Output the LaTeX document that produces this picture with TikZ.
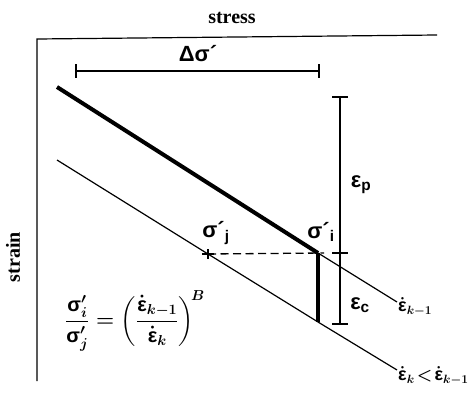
\documentclass[tikz,border=0pt]{standalone}
\usepackage{amsmath}
\usepackage{fontspec}
\setmainfont{Liberation Sans}
\newfontfamily\serifb{Liberation Serif}
\begin{document}
\begin{tikzpicture}[x=1pt,y=-1pt,
  thinln/.style={line width=1.2pt},
  thickln/.style={line width=4pt},
  axlabel/.style={font=\serifb\bfseries\fontsize{20}{22}\selectfont, inner sep=0pt},
  lbl/.style={font=\bfseries\boldmath\fontsize{22}{24}\selectfont, inner sep=0pt},
  ratelbl/.style={font=\bfseries\boldmath\fontsize{18}{20}\selectfont, inner sep=0pt, anchor=west},
  tick/.style={line width=1.1pt}]
\useasboundingbox (0,0) rectangle (473,407);
% axis labels
\node[axlabel] (stress) at (232,18) {stress};
\node[axlabel, rotate=90] (strain) at (13,257) {strain};
% axes
\coordinate (axR) at (437,35);
\coordinate (axO) at (37,39);
\coordinate (axB) at (37,381);
\draw[thinln] (axR) -- (axO) -- (axB);
% delta sigma dimension
\coordinate (dsL) at (76,71);
\coordinate (dsR) at (319,71);
\draw[thinln] (dsL) -- (dsR);
\draw[tick] ([yshift=7pt]dsL) -- ([yshift=-7pt]dsL);
\draw[tick] ([yshift=7pt]dsR) -- ([yshift=-7pt]dsR);
\node[lbl] (ds) at (198,54) {Δσ´};
% upper line
\coordinate (u0) at (57,87);
\coordinate (ui) at (318,253);
\coordinate (u1) at (397,302);
\draw[thickln] (u0) -- (ui);
\draw[thinln] (ui) -- (u1);
% lower line
\coordinate (l0) at (57,160);
\coordinate (lj) at (208,254);
\coordinate (lk) at (318,322);
\coordinate (l1) at (397,370);
\draw[thinln] (l0) -- (lj) -- (lk) -- (l1);
% dashed and thick vertical
\coordinate (dE) at (324,253);
\draw[line width=1.3pt, dash pattern=on 8pt off 4.5pt] (lj) -- (dE);
\draw[line width=3.4pt] (ui) -- (lk);
\draw[tick] ([xshift=-6pt]lj) -- ([xshift=6pt]lj);
\draw[tick] ([yshift=5pt]lj) -- ([yshift=-5pt]lj);
% strain dimension
\coordinate (eT) at (340,97);
\coordinate (eM) at (340,253);
\coordinate (eB) at (340,324);
\draw[thinln] (eT) -- (eB);
\foreach \p in {eT,eM,eB} \draw[tick] ([xshift=-8pt]\p) -- ([xshift=8pt]\p);
\node[lbl] (ep) at (361,185) {ε\textsubscript{p}};
\node[lbl] (ec) at (360,305) {ε\textsubscript{c}};
% point labels
\node[lbl] (si) at (321,232) {σ´\textsubscript{i}};
\node[lbl] (sj) at (216,233) {σ´\textsubscript{j}};
% rate labels
\node[ratelbl] (r1) at (398,307) {$\dot{\mbox{ε}}_{k-1}$};
\node[ratelbl] (r2) at (398,376) {$\dot{\mbox{ε}}_{k}\!<\!\dot{\mbox{ε}}_{k-1}$};
% formula
\node[lbl, font=\bfseries\boldmath\fontsize{20}{23}\selectfont] (eq) at (135,321)
  {$\dfrac{\mbox{σ}'_i}{\mbox{σ}'_j} = \left(\dfrac{\dot{\mbox{ε}}_{k-1}}{\dot{\mbox{ε}}_k}\right)^{\!B}$};
\end{tikzpicture}
\end{document}
